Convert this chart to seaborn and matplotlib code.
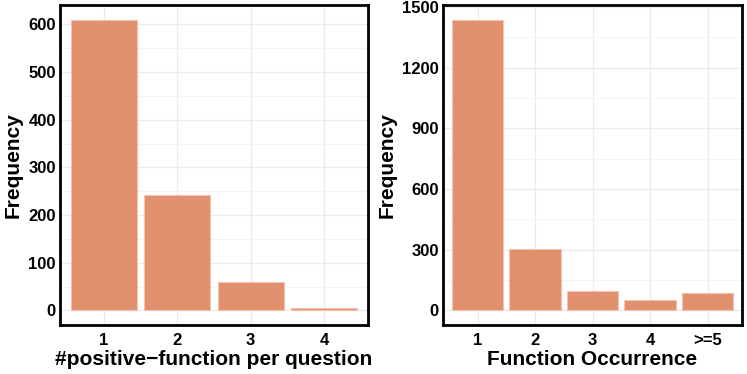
import numpy as np
import pandas as pd
import matplotlib
matplotlib.use("Agg")
import matplotlib.pyplot as plt
from matplotlib.ticker import MultipleLocator
import seaborn as sns

# left panel: number of positive functions per question
n_positive = ["1", "2", "3", "4"]
n_positive_freq = [610, 242, 60, 5]

# right panel: how often a function occurs
occurrence = ["1", "2", "3", "4", ">=5"]
occurrence_freq = [1437, 305, 95, 51, 85]

bar_color = "#E0906D"

sns.set_theme(style="whitegrid")
plt.rcParams["font.family"] = ["Liberation Sans", "DejaVu Sans"]


def draw_panel(ax, cats, freqs, xlabel, major, minor):
    df = pd.DataFrame({"cat": cats, "freq": freqs})
    sns.barplot(data=df, x="cat", y="freq", order=cats, color=bar_color,
                saturation=1, width=0.9, edgecolor="#F4C2AE", linewidth=0.8,
                ax=ax, zorder=3)
    top = max(freqs)
    ax.set_ylim(-0.05 * top, 1.05 * top)
    ax.set_xlim(-0.6, len(cats) - 0.4)
    ax.yaxis.set_major_locator(MultipleLocator(major))
    ax.yaxis.set_minor_locator(MultipleLocator(minor))
    ax.grid(True, which="major", color="#EBEBEB", linewidth=1.0, zorder=0)
    ax.grid(True, which="minor", axis="y", color="#F3F3F3", linewidth=0.6, zorder=0)
    ax.set_axisbelow(True)
    for s in ax.spines.values():
        s.set_visible(True)
        s.set_color("black")
        s.set_linewidth(2)
    ax.tick_params(axis="both", which="both", length=0, labelsize=12,
                   labelcolor="black")
    ax.tick_params(axis="x", pad=6)
    ax.tick_params(axis="y", pad=3)
    for lab in ax.get_xticklabels() + ax.get_yticklabels():
        lab.set_fontweight("bold")
    ax.set_xlabel(xlabel, fontsize=15, fontweight="bold", color="black", labelpad=1)
    ax.set_ylabel("Frequency", fontsize=15, fontweight="bold", color="black", labelpad=4)
    ax.set_facecolor("white")


fig = plt.figure(figsize=(7.47, 3.74), dpi=100)
ax1 = fig.add_axes([60 / 747, 49 / 374, 308 / 747, 320 / 374])
ax2 = fig.add_axes([443 / 747, 49 / 374, 299 / 747, 320 / 374])

draw_panel(ax1, n_positive, n_positive_freq, "#positive\u2212function per question", 100, 50)
draw_panel(ax2, occurrence, occurrence_freq, "Function Occurrence", 300, 150)

fig.savefig("out.png", dpi=100)
